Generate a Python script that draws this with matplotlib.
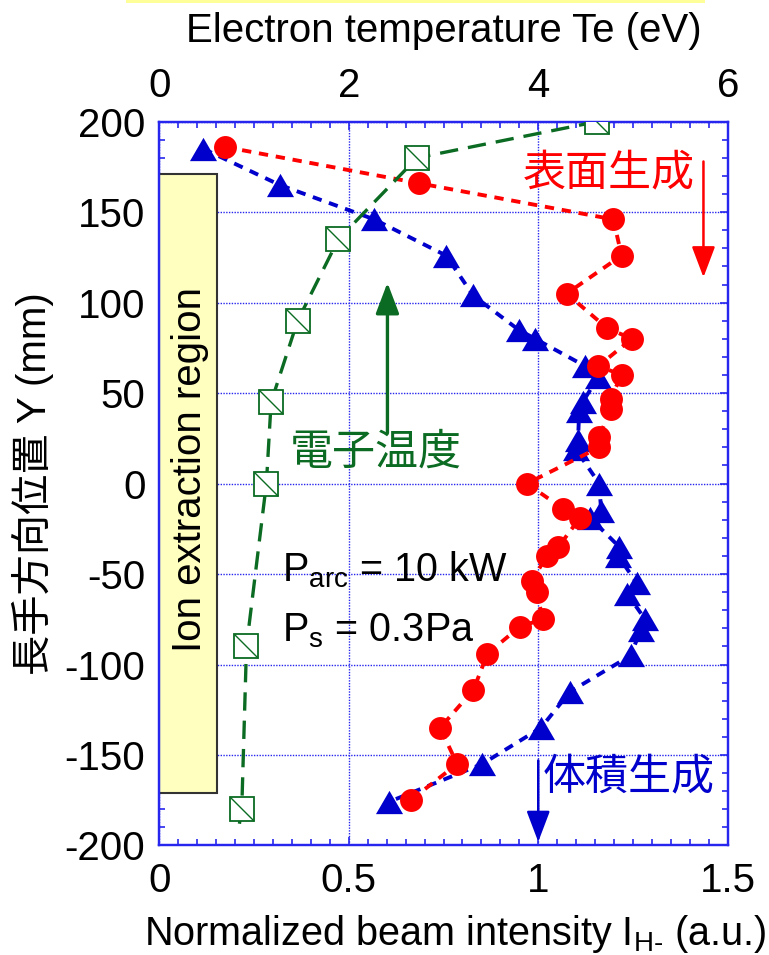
import numpy as np
import matplotlib.pyplot as plt
from matplotlib.path import Path
from matplotlib.patches import Rectangle
from matplotlib.ticker import MultipleLocator

plt.rcParams['font.family'] = ['Liberation Sans', 'Noto Sans CJK JP']
plt.rcParams['axes.unicode_minus'] = False
plt.rcParams['mathtext.fontset'] = 'custom'
plt.rcParams['mathtext.rm'] = 'Liberation Sans'

# position along the long axis (mm)
y_surf = [186, 166, 146, 126, 105, 86, 80, 65, 60, 47, 41, 26, 20, 0, -14, -19,
          -35, -40, -54, -60, -75, -79, -94, -114, -135, -155, -175]
i_surf = [0.174, 0.684, 1.198, 1.220, 1.075, 1.181, 1.247, 1.159, 1.220, 1.191,
          1.191, 1.161, 1.161, 0.970, 1.066, 1.110, 1.053, 1.022, 0.983, 0.996,
          1.012, 0.952, 0.866, 0.829, 0.741, 0.786, 0.663]

y_vol = [185, 165, 146, 126, 104, 85, 80, 65, 59, 45, 40, 24, 19, 0, -15, -19,
         -35, -40, -55, -61, -75, -81, -95, -115, -135, -155, -176]
i_vol = [0.116, 0.318, 0.567, 0.757, 0.828, 0.948, 0.992, 1.123, 1.159, 1.117,
         1.108, 1.105, 1.099, 1.161, 1.166, 1.137, 1.214, 1.211, 1.260, 1.235,
         1.282, 1.270, 1.244, 1.084, 1.007, 0.852, 0.605]

# electron temperature (eV), last entry is where the fitted line ends
y_te = [200, 180, 135, 90, 45, 0, -90, -180, -193]
te = [4.62, 2.72, 1.89, 1.46, 1.18, 1.13, 0.92, 0.87, 0.83]

red = '#ff0000'
blue = '#0000cc'
green = '#0b6b22'
frame = '#2626ee'

fig = plt.figure(figsize=(7.69, 9.55), dpi=100)
ax = fig.add_axes([0.2072, 0.1147, 0.7391, 0.7579])

# strip along the top edge
fig.patches.append(Rectangle((0.164, 0.9965), 0.753, 0.0035, transform=fig.transFigure,
                             facecolor='#ffff99', edgecolor='none'))

ax.set_xlim(0, 1.5)
ax.set_ylim(-200, 200)
ax.set_axisbelow(True)
ax.grid(True, color=frame, linestyle=(0, (1, 1)), linewidth=1.0)

ax.add_patch(Rectangle((0, -171), 0.151, 342, facecolor='#ffffc0', edgecolor='#333333',
                       linewidth=1.5, zorder=1))
ax.text(0.082, 8, 'Ion extraction region', rotation=90, ha='center', va='center',
        fontsize=29, zorder=2)

tri = Path([(0, 0.43), (-0.5, -0.43), (0.5, -0.43), (0, 0.43)],
           [Path.MOVETO, Path.LINETO, Path.LINETO, Path.CLOSEPOLY])
ax.plot(i_vol, y_vol, color=blue, lw=2.8, dashes=(2.4, 2.0), marker=tri, ms=19.5,
        mec='none', mfc=blue, zorder=3)
ax.plot(i_surf, y_surf, color=red, lw=2.8, dashes=(2.4, 2.0), marker='o', ms=16.5,
        mec='none', mfc=red, zorder=4)

ax.set_xticks([0, 0.5, 1, 1.5])
ax.set_xticklabels(['0', '0.5', '1', '1.5'])
ax.set_yticks(np.arange(-200, 201, 50))
ax.xaxis.set_minor_locator(MultipleLocator(0.05))
ax.yaxis.set_minor_locator(MultipleLocator(10))
ax.tick_params(which='both', direction='in', right=True, top=False, color=frame,
               width=1.2, labelsize=29)
ax.tick_params(which='major', length=6)
ax.tick_params(which='minor', length=4)
ax.tick_params(axis='x', pad=12)
ax.tick_params(axis='y', pad=10)
for s in ax.spines.values():
    s.set_color(frame)
    s.set_linewidth(1.6)

ax.set_xlabel(r'Normalized beam intensity I$_{\mathrm{H}\text{-}}$ (a.u.)', fontsize=28.5,
              labelpad=9)
ax.xaxis.label.set_x(0.52)
ax.set_ylabel('長手方向位置 Y (mm)', fontsize=29)
ax.yaxis.set_label_coords(-0.185, 0.5)

# electron temperature on the top scale
ax2 = ax.twiny()
ax2.set_xlim(0, 6)
ax2.set_xticks([0, 2, 4, 6])
ax2.xaxis.set_minor_locator(MultipleLocator(0.2))
ax2.tick_params(which='both', direction='in', color=frame, width=1.2, labelsize=29, pad=12)
ax2.tick_params(which='major', length=6)
ax2.tick_params(which='minor', length=4)
for s in ax2.spines.values():
    s.set_color(frame)
    s.set_linewidth(1.6)
ax2.set_xlabel('Electron temperature Te (eV)', fontsize=29, labelpad=18)

diag = Path([(-0.5, 0.5), (0.5, -0.5)], [Path.MOVETO, Path.LINETO])
ax2.plot(te, y_te, color=green, lw=2.4, dashes=(5.5, 3.0), zorder=5)
ax2.plot(te[:-1], y_te[:-1], ls='none', marker='s', ms=17, mfc='white', mec=green,
         mew=1.3, zorder=6)
ax2.plot(te[:-1], y_te[:-1], ls='none', marker=diag, ms=17, mec=green, mew=1.0, zorder=7)

# labels and arrows
ax.text(1.185, 171, '表面生成', color=red, fontsize=31, ha='center', va='center',
        family='Noto Sans CJK JP', zorder=8)
ax.annotate('', xy=(1.436, 114), xytext=(1.436, 178),
            arrowprops=dict(arrowstyle='-|>,head_length=0.95,head_width=0.36',
                            mutation_scale=20, color=red, lw=1.8, shrinkA=0, shrinkB=0))

ax.text(0.570, 17, '電子温度', color=green, fontsize=31, ha='center', va='center',
        family='Noto Sans CJK JP', zorder=8)
ax.annotate('', xy=(0.602, 111), xytext=(0.602, 28),
            arrowprops=dict(arrowstyle='-|>,head_length=0.95,head_width=0.36',
                            mutation_scale=20, color=green, lw=2.4, shrinkA=0, shrinkB=0))

ax.text(1.238, -163, '体積生成', color=blue, fontsize=31, ha='center', va='center',
        family='Noto Sans CJK JP', zorder=8)
ax.annotate('', xy=(1.0, -198), xytext=(1.0, -153),
            arrowprops=dict(arrowstyle='-|>,head_length=0.95,head_width=0.36',
                            mutation_scale=20, color=blue, lw=1.8, shrinkA=0, shrinkB=0))

ax.text(0.323, -54, r'P$_{\mathrm{arc}}$ = 10 kW', fontsize=28.5, ha='left',
        va='baseline', zorder=8)
ax.text(0.323, -87, r'P$_{\mathrm{s}}$ = 0.3Pa', fontsize=28.5, ha='left',
        va='baseline', zorder=8)

fig.savefig('out.png', dpi=100)
